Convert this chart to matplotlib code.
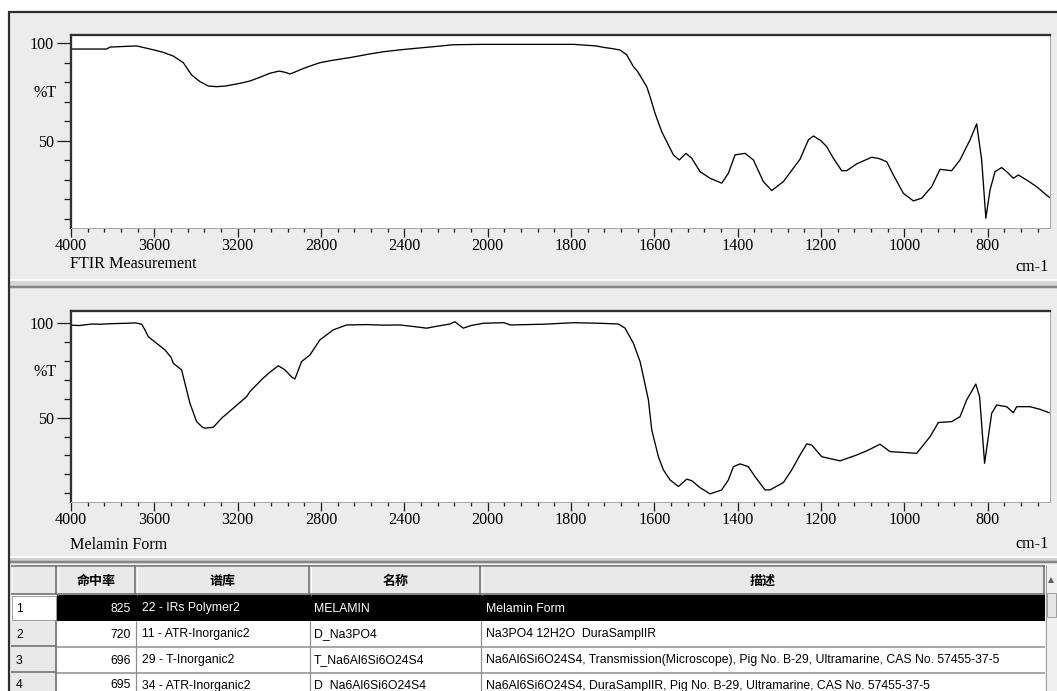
import numpy as np
import matplotlib
matplotlib.use('Agg')
import matplotlib.pyplot as plt
from matplotlib import font_manager as fm
from matplotlib.patches import Rectangle, Polygon
from matplotlib.ticker import FixedLocator, NullFormatter

# ---------------- data ----------------
wn_meas = [4000, 3900, 3829, 3813, 3750, 3685, 3637, 3600, 3557, 3509, 3461, 3421,
           3381, 3340, 3300, 3260, 3189, 3141, 3093, 3045, 3000, 2970, 2949, 2925,
           2901, 2860, 2805, 2740, 2661, 2580, 2501, 2420, 2341, 2250, 2165, 2100,
           2022, 1900, 1793, 1740, 1720, 1700, 1682, 1666, 1650, 1640, 1618, 1610,
           1598, 1582, 1566, 1554, 1540, 1524, 1510, 1490, 1466, 1438, 1422, 1406,
           1382, 1362, 1338, 1318, 1290, 1250, 1230, 1218, 1200, 1186, 1170, 1150,
           1138, 1114, 1078, 1060, 1042, 1026, 1002, 978, 958, 934, 914, 886, 866,
           842, 826, 814, 804, 794, 782, 766, 754, 738, 726, 706, 682, 654, 650]
t_meas = [97.0, 97.0, 97.0, 98.0, 98.3, 98.6, 97.4, 96.5, 95.3, 93.4, 90.0, 83.7,
          80.3, 78.0, 77.7, 78.0, 79.4, 80.6, 82.5, 84.6, 85.7, 85.0, 84.2, 85.2,
          86.3, 88.0, 90.0, 91.3, 92.6, 94.2, 95.6, 96.6, 97.4, 98.3, 99.2, 99.3,
          99.4, 99.4, 99.4, 98.6, 97.8, 97.2, 96.5, 94.0, 88.0, 85.5, 77.7, 72.6,
          64.0, 54.6, 47.8, 42.7, 40.1, 43.5, 41.0, 34.1, 30.7, 28.2, 33.3, 42.7,
          43.5, 40.1, 29.0, 24.4, 29.0, 40.5, 50.4, 52.4, 50.0, 46.9, 41.0, 34.6,
          34.6, 38.1, 41.5, 40.8, 39.2, 32.4, 23.0, 19.1, 20.5, 26.4, 35.3, 34.6, 40.1,
          50.4, 58.6, 40.1, 10.2, 24.7, 34.1, 36.2, 34.1, 30.7, 32.4, 29.8, 26.4, 21.3, 20.8]

wn_ref = [4000, 3960, 3900, 3861, 3800, 3733, 3690, 3661, 3645, 3629, 3589, 3549,
          3520, 3509, 3469, 3453, 3429, 3397, 3370, 3357, 3317, 3277, 3221, 3157,
          3141, 3077, 3040, 3005, 2973, 2940, 2925, 2893, 2853, 2805, 2741, 2677,
          2581, 2500, 2421, 2350, 2293, 2240, 2181, 2157, 2117, 2080, 2021, 1961,
          1945, 1865, 1793, 1730, 1686, 1670, 1650, 1634, 1626, 1614, 1606, 1590,
          1578, 1562, 1542, 1522, 1510, 1490, 1466, 1438, 1422, 1410, 1394, 1374,
          1358, 1334, 1322, 1290, 1270, 1250, 1234, 1222, 1198, 1154, 1114, 1090,
          1058, 1034, 970, 938, 918, 886, 866, 850, 828, 819, 807, 798, 790, 778,
          754, 738, 730, 698, 674, 652]
t_ref = [99.0, 98.8, 99.6, 99.5, 99.8, 100.0, 100.2, 99.5, 96.5, 92.9, 89.4, 85.9,
         82.0, 78.8, 75.3, 68.2, 57.6, 47.9, 45.0, 44.4, 44.9, 49.7, 55.0, 61.1,
         63.8, 71.0, 74.5, 77.5, 75.3, 71.5, 70.5, 79.7, 83.2, 91.2, 96.5, 99.1,
         99.3, 99.0, 99.1, 98.2, 97.4, 98.5, 99.6, 100.8, 97.4, 98.8, 100.0, 100.3,
         99.1, 99.5, 100.3, 100.0, 99.6, 97.4, 89.4, 79.7, 71.7, 59.4, 43.5, 29.3,
         22.3, 17.0, 13.5, 17.4, 16.6, 12.9, 9.6, 11.7, 17.0, 24.0, 25.5, 24.0,
         18.7, 11.7, 11.7, 15.6, 22.3, 30.2, 36.1, 35.5, 29.3, 27.1, 30.2, 32.4,
         35.9, 32.0, 31.1, 39.9, 47.4, 47.9, 50.5, 59.4, 67.8, 61.1, 25.8, 39.9, 52.3, 56.7,
         55.8, 52.6, 55.8, 55.8, 54.4, 52.6]

major_x = [4000, 3600, 3200, 2800, 2400, 2000, 1800, 1600, 1400, 1200, 1000, 800]
major_y = [50, 100]
minor_y = [10, 20, 30, 40, 60, 70, 80, 90]
panel_labels = ['FTIR Measurement', 'Melamin Form']
x_unit = 'cm-1'
y_label = '%T'

col_headers = ['命中率', '谱库', '名称', '描述']
row_ids = ['1', '2', '3', '4']
hit_scores = ['825', '720', '696', '695']
libraries = ['22 - IRs Polymer2', '11 - ATR-Inorganic2', '29 - T-Inorganic2', '34 - ATR-Inorganic2']
names = ['MELAMIN', 'D_Na3PO4', 'T_Na6Al6Si6O24S4', 'D_Na6Al6Si6O24S4']
descriptions = ['Melamin Form',
                'Na3PO4 12H2O  DuraSamplIR',
                'Na6Al6Si6O24S4, Transmission(Microscope), Pig No. B-29, Ultramarine, CAS No. 57455-37-5',
                'Na6Al6Si6O24S4, DuraSamplIR, Pig No. B-29, Ultramarine, CAS No. 57455-37-5']

# ---------------- fonts ----------------
def has_font(name):
    try:
        fm.findfont(fm.FontProperties(family=name), fallback_to_default=False)
        return True
    except Exception:
        return False

NARROW = has_font('Liberation Sans Narrow')
AX_FONT = 'Liberation Sans Narrow' if NARROW else 'Liberation Serif'
TB_FONT = 'Liberation Sans Narrow' if NARROW else 'Liberation Sans'
CJK_FONT = 'Noto Sans CJK SC'

W, H = 1057, 691
fig = plt.figure(figsize=(W / 100, H / 100), dpi=100, facecolor='#ECECEC')
renderer = fig.canvas.get_renderer()


def fit_size(text, family, target_px, weight='normal', base=10.0):
    t = fig.text(0, 0, text, fontsize=base, family=family, weight=weight)
    w = t.get_window_extent(renderer=renderer).width
    t.remove()
    return base * target_px / w


ax_size = fit_size(panel_labels[0], AX_FONT, 127)
tb_size = fit_size(descriptions[2], TB_FONT, 512)
hd_size = fit_size(col_headers[0], CJK_FONT, 39, weight='bold')

PT = 0.72  # points per pixel

# ---------------- background / chrome axis ----------------
bg = fig.add_axes([0, 0, 1, 1], zorder=0)
bg.set_xlim(0, W)
bg.set_ylim(H, 0)
bg.axis('off')


def rect(x0, y0, x1, y1, fc, ec='none', lw=0.0, z=1, ls='solid'):
    bg.add_patch(Rectangle((x0, y0), x1 - x0, y1 - y0, facecolor=fc, edgecolor=ec,
                           linewidth=lw * PT, zorder=z, linestyle=ls))


def hline(y, x0, x1, color, lw, z=3):
    bg.plot([x0, x1], [y, y], color=color, lw=lw * PT, solid_capstyle='butt', zorder=z)


def vline(x, y0, y1, color, lw, z=3):
    bg.plot([x, x], [y0, y1], color=color, lw=lw * PT, solid_capstyle='butt', zorder=z)


rect(0, 0, W, 11, 'white', z=1)
rect(0, 0, 8, H, 'white', z=1)
hline(12, 8, W, '#2E2E2E', 2.2)
vline(9, 11, H, '#2E2E2E', 2.2)

# separator between spectra panels
hline(280, 10, W, 'white', 1.5)
rect(10, 281, W, 286, '#D6D6D6', z=2)
hline(287, 10, W, '#858585', 2.5)
# separator above table
hline(556.5, 10, W, 'white', 1.5)
rect(10, 558, W, 561, '#D0D0D0', z=2)
hline(562, 10, W, '#858585', 2.5)

# ---------------- table ----------------
col_x = [11, 57, 136, 310, 481, 1045]
hdr_top, hdr_bot = 565, 595
row_tops = [595, 621, 647, 672]
row_h = 26

rect(11, hdr_top, 1045, H, 'white', z=2)
# header cells
for i in range(len(col_x) - 1):
    rect(col_x[i], hdr_top, col_x[i + 1], hdr_bot, '#E9E9E9', z=2)
    vline(col_x[i + 1] - 1, hdr_top, hdr_bot, '#6E6E6E', 1.6, z=4)
    vline(col_x[i] + 1, hdr_top, hdr_bot, 'white', 1.0, z=4)
hline(hdr_top + 0.5, 11, 1045, '#6E6E6E', 1.5, z=4)
hline(hdr_bot - 1, 11, 1045, '#6E6E6E', 1.6, z=4)
for i, h in enumerate(col_headers):
    cx = (col_x[i + 1] + col_x[i + 2]) / 2
    bg.text(cx, (hdr_top + hdr_bot) / 2 + 1, h, family=CJK_FONT, weight='bold',
            fontsize=hd_size, ha='center', va='center', color='black', zorder=5)

# rows
for r in range(len(row_ids)):
    y0 = row_tops[r]
    y1 = y0 + row_h
    yc = y0 + row_h / 2 + 0.5
    selected = (r == 0)
    # row number cell
    if selected:
        rect(col_x[0] + 1, y0 + 1, col_x[1] - 1, y1 - 1, 'white', ec='#404040', lw=1.0, z=4, ls=(0, (1, 1)))
    else:
        rect(col_x[0], y0, col_x[1], y1, '#E9E9E9', z=2)
        vline(col_x[1] - 1, y0, y1, '#6E6E6E', 1.6, z=4)
        hline(y1 - 1, col_x[0], col_x[1], '#6E6E6E', 1.6, z=4)
    bg.text(col_x[0] + 5, yc, row_ids[r], family=TB_FONT, fontsize=tb_size,
            ha='left', va='center', color='black', zorder=6)
    fc = 'black' if selected else 'white'
    tc = 'white' if selected else 'black'
    rect(col_x[1], y0, col_x[-1], y1, fc, z=2)
    if not selected:
        hline(y1 - 0.5, col_x[1], col_x[-1], '#8C8C8C', 1.5, z=4)
        for cx in col_x[2:-1]:
            vline(cx, y0, y1, '#8C8C8C', 1.2, z=4)
    bg.text(col_x[2] - 5, yc, hit_scores[r], family=TB_FONT, fontsize=tb_size,
            ha='right', va='center', color=tc, zorder=6)
    bg.text(col_x[2] + 6, yc, libraries[r], family=TB_FONT, fontsize=tb_size,
            ha='left', va='center', color=tc, zorder=6)
    bg.text(col_x[3] + 4, yc, names[r], family=TB_FONT, fontsize=tb_size,
            ha='left', va='center', color=tc, zorder=6)
    bg.text(col_x[4] + 5, yc, descriptions[r], family=TB_FONT, fontsize=tb_size,
            ha='left', va='center', color=tc, zorder=6)

# scrollbar
rect(1045, hdr_top, W, H, '#F0F0F0', z=2)
vline(1045.5, hdr_top, H, '#A0A0A0', 1.0, z=4)
bg.add_patch(Polygon([[1048, 583], [1054, 583], [1051, 577]], closed=True,
                     facecolor='#606060', edgecolor='none', zorder=5))
rect(1047, 593, 1056, 617, '#E6E6E6', ec='#A0A0A0', lw=1.0, z=4)

# ---------------- spectra axes ----------------
def fwd(x):
    x = np.asarray(x, dtype=float)
    return np.where(x > 2000, 2000 + (x - 2000) / 2.0, x)


def inv(u):
    u = np.asarray(u, dtype=float)
    return np.where(u > 2000, 2000 + 2.0 * (u - 2000), u)


minor_x = list(range(4000, 2000, -80)) + list(range(2000, 640, -40))


def make_panel(box, wn, t, ylim, label, label_y, unit_y, ylabel_y):
    x0, y0, x1, y1 = box
    ax = fig.add_axes([x0 / W, 1 - y1 / H, (x1 - x0) / W, (y1 - y0) / H], zorder=2)
    ax.set_facecolor('white')
    ax.set_xscale('function', functions=(fwd, inv))
    ax.plot(wn, t, color='black', lw=0.95)
    ax.set_xlim(4000, 650)
    ax.set_ylim(*ylim)
    ax.xaxis.set_major_locator(FixedLocator(major_x))
    ax.xaxis.set_minor_locator(FixedLocator(minor_x))
    ax.xaxis.set_minor_formatter(NullFormatter())
    ax.set_xticklabels([str(v) for v in major_x])
    ax.yaxis.set_major_locator(FixedLocator(major_y))
    ax.yaxis.set_minor_locator(FixedLocator(minor_y))
    ax.yaxis.set_minor_formatter(NullFormatter())
    ax.set_yticklabels([str(v) for v in major_y])
    for side in ['top', 'left']:
        ax.spines[side].set_color('#303030')
        ax.spines[side].set_linewidth(2.3 * PT)
    for side in ['right', 'bottom']:
        ax.spines[side].set_color('#A8A8A8')
        ax.spines[side].set_linewidth(1.0 * PT)
    ax.tick_params(axis='y', which='major', direction='out', length=14 * PT, width=1.3 * PT,
                   color='#202020', pad=3 * PT, labelsize=ax_size, labelfontfamily=AX_FONT)
    ax.tick_params(axis='y', which='minor', direction='out', length=7 * PT, width=1.3 * PT,
                   color='#202020')
    ax.tick_params(axis='x', which='major', direction='out', length=9 * PT, width=1.3 * PT,
                   color='#202020', pad=1.5 * PT, labelsize=ax_size, labelfontfamily=AX_FONT)
    ax.tick_params(axis='x', which='minor', direction='out', length=4 * PT, width=1.3 * PT,
                   color='#202020')
    bg.text(70, label_y, label, family=AX_FONT, fontsize=ax_size, ha='left', va='center',
            color='black', zorder=5)
    bg.text(1049, unit_y, x_unit, family=AX_FONT, fontsize=ax_size, ha='right', va='center',
            color='black', zorder=5)
    bg.text(33, ylabel_y, y_label, family=AX_FONT, fontsize=ax_size, ha='left', va='center',
            color='black', zorder=5)
    return ax


make_panel((71, 35, 1050, 228), wn_meas, t_meas, (5.2, 104.2), panel_labels[0], 264, 267, 93)
make_panel((71, 311, 1050, 502), wn_ref, t_ref, (5.3, 106.5), panel_labels[1], 545, 544, 372)

fig.savefig('out.png', dpi=100, facecolor=fig.get_facecolor())
